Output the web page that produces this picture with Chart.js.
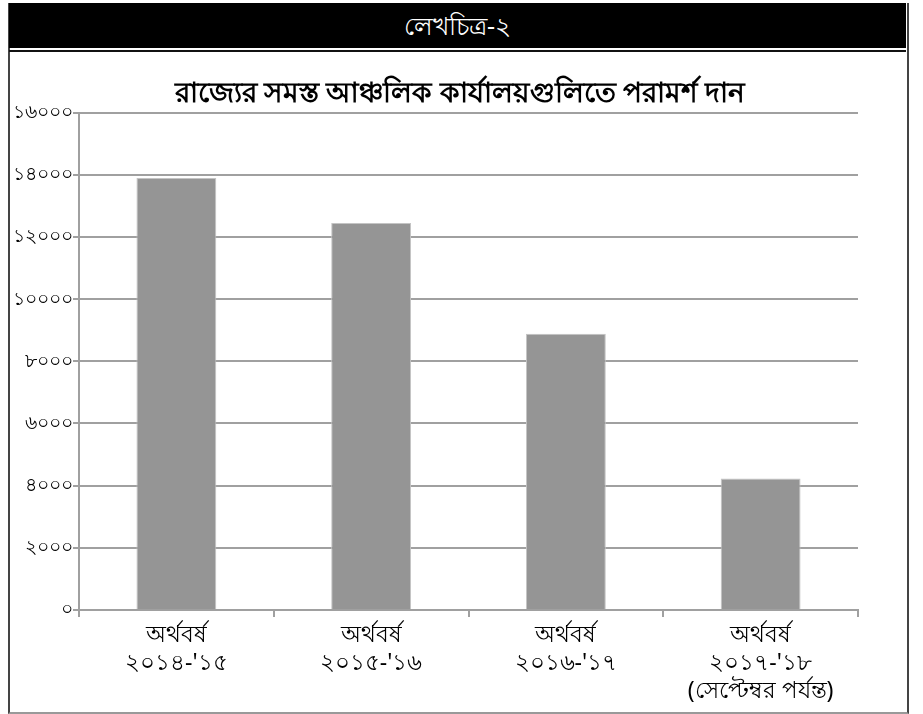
<!DOCTYPE html>
<html>
<head>
<meta charset="utf-8">
<script src="https://cdn.jsdelivr.net/npm/chart.js@4.4.0/dist/chart.umd.min.js"></script>
<style>
  html, body { margin: 0; padding: 0; background: #fff; }
  body { width: 923px; height: 714px; position: relative; overflow: hidden; font-family: "Noto Sans", "DejaVu Sans", sans-serif; }
  #frame { position: absolute; left: 8px; top: 3px; width: 897px; height: 709px; border-left: 2px solid #444; border-right: 2px solid #444; border-bottom: 2px solid #999; }
  #head { position: absolute; left: 9px; top: 3px; width: 897px; height: 45px; background: #000; color: #fff; text-align: center; font-size: 25px; line-height: 45px; }
  #rule { position: absolute; left: 9px; top: 50px; width: 897px; height: 2px; background: #111; }
  #wrap { position: absolute; left: 0; top: 0; width: 923px; height: 714px; }
</style>
</head>
<body>
<div id="frame"></div>
<div id="head">লেখচিত্র-২</div>
<div id="rule"></div>
<div id="wrap"><canvas id="c" width="923" height="714"></canvas></div>
<script>
const chartTitle = "রাজ্যের সমস্ত আঞ্চলিক কার্যালয়গুলিতে পরামর্শ দান";
const categories = [
  ["অর্থবর্ষ", "২০১৪-'১৫"],
  ["অর্থবর্ষ", "২০১৫-'১৬"],
  ["অর্থবর্ষ", "২০১৬-'১৭"],
  ["অর্থবর্ষ", "২০১৭-'১৮", "(সেপ্টেম্বর পর্যন্ত)"]
];
const values = [13900, 12450, 8890, 4230];
const yTickValues = [0, 2000, 4000, 6000, 8000, 10000, 12000, 14000, 16000];
const yTickLabels = ["০", "২০০০", "৪০০০", "৬০০০", "৮০০০", "১০০০০", "১২০০০", "১৪০০০", "১৬০০০"];

const fontFam = "'Noto Sans', 'DejaVu Sans', sans-serif";
new Chart(document.getElementById('c'), {
  type: 'bar',
  data: {
    labels: categories,
    datasets: [{
      data: values,
      backgroundColor: '#959595',
      borderColor: '#c4c4c4',
      borderWidth: 1,
      categoryPercentage: 1,
      barPercentage: 0.41
    }]
  },
  options: {
    responsive: false,
    animation: false,
    devicePixelRatio: 1,
    layout: { padding: { left: 10, right: 13, top: 0, bottom: 0 } },
    plugins: {
      legend: { display: false },
      tooltip: { enabled: false },
      title: {
        display: true,
        text: chartTitle,
        color: '#000',
        font: { family: fontFam, size: 28, weight: 'bold', lineHeight: 1.2 },
        padding: { top: 77, bottom: 2 }
      }
    },
    scales: {
      y: {
        min: 0, max: 16000,
        afterBuildTicks: (s) => { s.ticks = yTickValues.map(v => ({ value: v })); },
        afterFit: (s) => { s.width = 69; },
        ticks: {
          color: '#000',
          font: { family: fontFam, size: 19 },
          padding: 0,
          callback: (v) => { const i = yTickValues.indexOf(v); return i >= 0 ? yTickLabels[i] : ''; }
        },
        grid: { color: '#a0a0a0', lineWidth: 2, tickLength: 6, drawTicks: true },
        border: { color: '#a0a0a0', width: 2 }
      },
      yr: {
        position: 'right',
        min: 0, max: 16000,
        afterFit: (s) => { s.width = 52; },
        ticks: { display: false },
        grid: { display: false, drawOnChartArea: false, drawTicks: false },
        border: { display: false }
      },
      x: {
        afterFit: (s) => { s.height = 104; },
        ticks: {
          color: '#000',
          font: { family: fontFam, size: 23, lineHeight: 1.22 },
          padding: 4,
          maxRotation: 0, autoSkip: false
        },
        grid: { offset: true, drawOnChartArea: false, color: '#a0a0a0', lineWidth: 2, tickLength: 7 },
        border: { color: '#a0a0a0', width: 2 }
      }
    }
  }
});
</script>
</body>
</html>
